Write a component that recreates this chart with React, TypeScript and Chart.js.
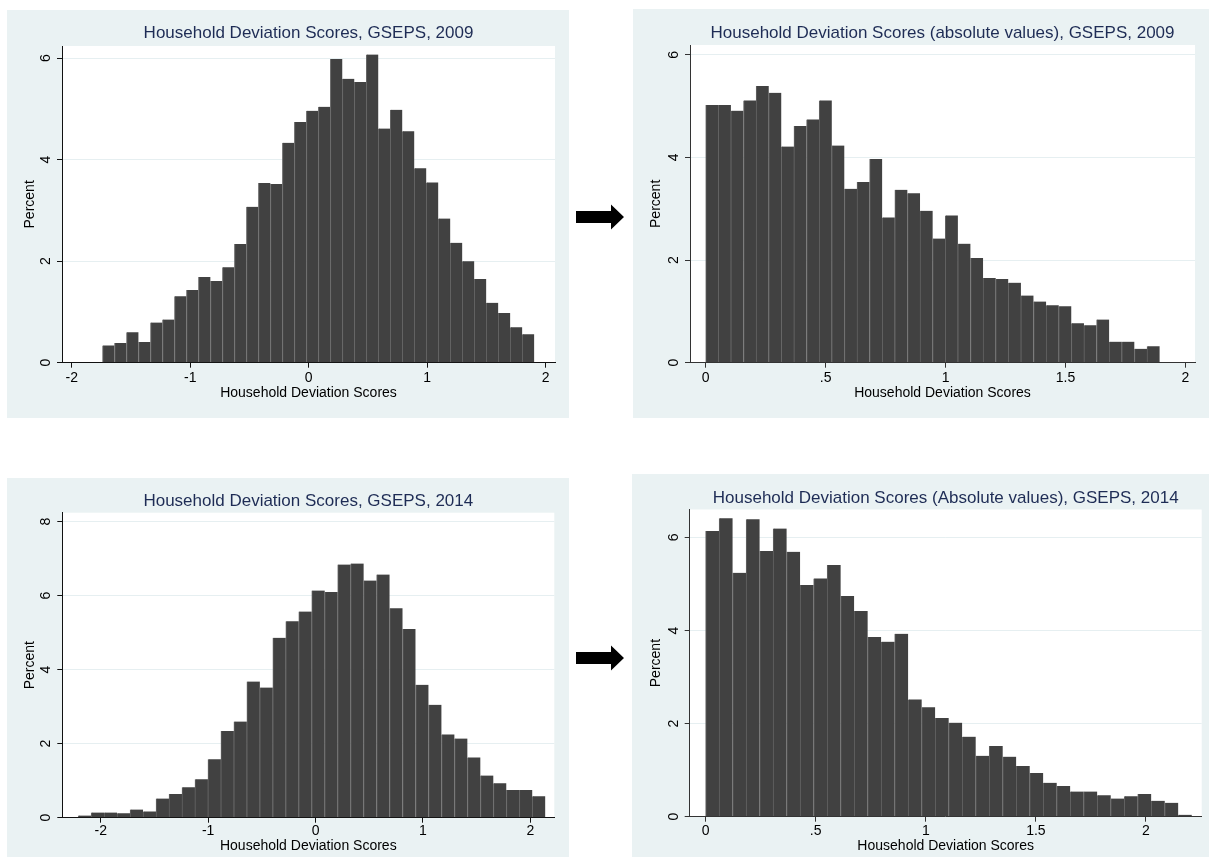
import React, { useEffect, useRef } from "react";
import { Chart, registerables } from "chart.js";

Chart.register(...registerables);

// ---------- Data ----------
const title2009 = "Household Deviation Scores, GSEPS, 2009";
const title2009Abs = "Household Deviation Scores (absolute values), GSEPS, 2009";
const title2014 = "Household Deviation Scores, GSEPS, 2014";
const title2014Abs = "Household Deviation Scores (Absolute values), GSEPS, 2014";
const xAxisTitle = "Household Deviation Scores";
const yAxisTitle = "Percent";

// histogram bins: first bin start and bin width, then percent per bin
const binStart2009 = -1.74;
const binWidth2009 = 0.1012;
const values2009 = [
  0.34, 0.39, 0.6, 0.41, 0.79, 0.85, 1.31, 1.43, 1.69, 1.61, 1.88, 2.34,
  3.07, 3.54, 3.52, 4.33, 4.74, 4.96, 5.04, 5.98, 5.59, 5.53, 6.07, 4.61,
  4.98, 4.56, 3.83, 3.55, 2.84, 2.36, 2.0, 1.65, 1.18, 0.98, 0.7, 0.56,
];

const binStart2009Abs = 0;
const binWidth2009Abs = 0.05256;
const values2009Abs = [
  5.02, 5.02, 4.91, 5.11, 5.39, 5.26, 4.21, 4.61, 4.74, 5.11, 4.23, 3.39,
  3.52, 3.97, 2.83, 3.37, 3.3, 2.96, 2.42, 2.87, 2.32, 2.04, 1.65, 1.63,
  1.56, 1.31, 1.19, 1.12, 1.1, 0.77, 0.73, 0.84, 0.41, 0.41, 0.27, 0.32,
];

const binStart2014 = -2.21;
const binWidth2014 = 0.12081;
const values2014 = [
  0.06, 0.14, 0.14, 0.12, 0.22, 0.17, 0.52, 0.64, 0.82, 1.04, 1.58, 2.34,
  2.6, 3.68, 3.52, 4.86, 5.31, 5.57, 6.14, 6.1, 6.84, 6.87, 6.41, 6.57,
  5.66, 5.1, 3.59, 3.05, 2.25, 2.14, 1.63, 1.14, 0.93, 0.75, 0.75, 0.58,
];

const binStart2014Abs = 0;
const binWidth2014Abs = 0.06133;
const values2014Abs = [
  6.14, 6.41, 5.24, 6.39, 5.71, 6.19, 5.69, 4.98, 5.12, 5.41, 4.74, 4.42,
  3.86, 3.76, 3.93, 2.52, 2.35, 2.12, 2.02, 1.72, 1.31, 1.52, 1.29, 1.09,
  0.94, 0.73, 0.66, 0.54, 0.54, 0.46, 0.39, 0.44, 0.49, 0.34, 0.3, 0.04,
];

const xTicksSigned = [-2, -1, 0, 1, 2];
const xTickLabelsSigned = ["-2", "-1", "0", "1", "2"];
const xTicksAbs = [0, 0.5, 1, 1.5, 2];
const xTickLabelsAbs = ["0", ".5", "1", "1.5", "2"];
const yTicks6 = [0, 2, 4, 6];
const yTickLabels6 = ["0", "2", "4", "6"];
const yTicks8 = [0, 2, 4, 6, 8];
const yTickLabels8 = ["0", "2", "4", "6", "8"];

// ---------- Styles ----------
const FONT = "'Liberation Sans', Arial, Helvetica, sans-serif";
const PANEL_BG = "#eaf2f3";
const GRID = "#e6eff1";
const BAR = "#414141";
const BAR_EDGE = "#646464";
const TITLE_COLOR = "#1e2c55";

type PanelSpec = {
  id: string;
  left: number;
  top: number;
  width: number;
  height: number;
  yW: number;
  xH: number;
  rightPad: number;
  titlePadTop: number;
  titlePadBottom: number;
  xTickPad: number;
  xTitlePadBottom: number;
  yTitlePadTop: number;
  title: string;
  values: number[];
  binStart: number;
  binWidth: number;
  xMin: number;
  xMax: number;
  yMax: number;
  xTicks: number[];
  xTickLabels: string[];
  yTicks: number[];
  yTickLabels: string[];
  axisColor: string;
};

const panelBgPlugin = {
  id: "panelBg",
  beforeDraw(chart: any) {
    const { ctx, chartArea, width, height } = chart;
    ctx.save();
    ctx.fillStyle = PANEL_BG;
    ctx.fillRect(0, 0, width, height);
    ctx.fillStyle = "#ffffff";
    ctx.fillRect(
      chartArea.left,
      chartArea.top,
      chartArea.right - chartArea.left,
      chartArea.bottom - chartArea.top
    );
    ctx.restore();
  },
};

function HistPanel({ spec }: { spec: PanelSpec }) {
  const ref = useRef<HTMLCanvasElement | null>(null);

  useEffect(() => {
    if (!ref.current) return;
    const points = spec.values.map((v, i) => ({
      x: spec.binStart + (i + 0.5) * spec.binWidth,
      y: v,
    }));
    const tickFont = { family: FONT, size: 14, lineHeight: 1.2 };
    const chart = new Chart(ref.current, {
      type: "bar",
      data: {
        datasets: [
          {
            data: points as any,
            backgroundColor: BAR,
            borderColor: BAR_EDGE,
            borderWidth: { left: 1, right: 0, top: 0, bottom: 0 } as any,
            borderSkipped: false as any,
            barPercentage: 1,
            categoryPercentage: 1,
            grouped: false,
          },
        ],
      },
      options: {
        responsive: false,
        maintainAspectRatio: false,
        animation: false,
        devicePixelRatio: 1,
        events: [],
        layout: {
          padding: { top: 0, left: 0, bottom: 0, right: spec.rightPad },
        },
        plugins: {
          legend: { display: false },
          tooltip: { enabled: false },
          title: {
            display: true,
            text: spec.title,
            fullSize: false,
            color: TITLE_COLOR,
            font: { family: FONT, size: 17, weight: "normal", lineHeight: 1.2 },
            padding: { top: spec.titlePadTop, bottom: spec.titlePadBottom },
          },
        },
        scales: {
          x: {
            type: "linear",
            min: spec.xMin,
            max: spec.xMax,
            offset: false,
            afterBuildTicks: (s: any) => {
              s.ticks = spec.xTicks.map((v) => ({ value: v }));
            },
            afterFit: (s: any) => {
              s.height = spec.xH;
            },
            grid: {
              display: true,
              drawOnChartArea: false,
              drawTicks: true,
              tickLength: 5,
              tickColor: spec.axisColor,
              offset: false,
            },
            border: { display: true, color: spec.axisColor, width: 1 },
            ticks: {
              autoSkip: false,
              minRotation: 0,
              maxRotation: 0,
              padding: spec.xTickPad,
              color: "#000",
              font: tickFont,
              callback: (_v: any, i: number) => spec.xTickLabels[i],
            },
            title: {
              display: true,
              text: xAxisTitle,
              color: "#000",
              font: tickFont,
              padding: { top: 0, bottom: spec.xTitlePadBottom },
            },
          },
          y: {
            type: "linear",
            min: 0,
            max: spec.yMax,
            afterBuildTicks: (s: any) => {
              s.ticks = spec.yTicks.map((v) => ({ value: v }));
            },
            afterFit: (s: any) => {
              s.width = spec.yW;
            },
            grid: {
              display: true,
              drawOnChartArea: true,
              color: GRID,
              lineWidth: 1,
              drawTicks: true,
              tickLength: 5,
              tickColor: spec.axisColor,
            },
            border: { display: true, color: spec.axisColor, width: 1 },
            ticks: {
              autoSkip: false,
              minRotation: 90,
              maxRotation: 90,
              crossAlign: "center",
              padding: 7,
              color: "#000",
              font: tickFont,
              callback: (_v: any, i: number) => spec.yTickLabels[i],
            },
            title: {
              display: true,
              text: yAxisTitle,
              color: "#000",
              font: tickFont,
              padding: { top: spec.yTitlePadTop, bottom: 0 },
            },
          },
        },
      } as any,
      plugins: [panelBgPlugin],
    });
    return () => chart.destroy();
  }, [spec]);

  return (
    <div
      style={{
        position: "absolute",
        left: spec.left,
        top: spec.top,
        width: spec.width,
        height: spec.height,
      }}
    >
      <canvas
        ref={ref}
        width={spec.width}
        height={spec.height}
        style={{ width: spec.width, height: spec.height, display: "block" }}
      />
    </div>
  );
}

const panels: PanelSpec[] = [
  {
    id: "p2009",
    left: 7,
    top: 10,
    width: 562,
    height: 408,
    yW: 55,
    xH: 55.3,
    rightPad: 14,
    titlePadTop: 12.8,
    titlePadBottom: 2.8,
    xTickPad: 1.6,
    xTitlePadBottom: 16.3,
    yTitlePadTop: 15.1,
    title: title2009,
    values: values2009,
    binStart: binStart2009,
    binWidth: binWidth2009,
    xMin: -2.082,
    xMax: 2.0785,
    yMax: 6.237,
    xTicks: xTicksSigned,
    xTickLabels: xTickLabelsSigned,
    yTicks: yTicks6,
    yTickLabels: yTickLabels6,
    axisColor: "#111",
  },
  {
    id: "p2009abs",
    left: 633,
    top: 9,
    width: 576,
    height: 409,
    yW: 57,
    xH: 55.3,
    rightPad: 14,
    titlePadTop: 14.1,
    titlePadBottom: 1.5,
    xTickPad: 2.2,
    xTitlePadBottom: 16.3,
    yTitlePadTop: 15.2,
    title: title2009Abs,
    values: values2009Abs,
    binStart: binStart2009Abs,
    binWidth: binWidth2009Abs,
    xMin: -0.0654,
    xMax: 2.0396,
    yMax: 6.19,
    xTicks: xTicksAbs,
    xTickLabels: xTickLabelsAbs,
    yTicks: yTicks6,
    yTickLabels: yTickLabels6,
    axisColor: "#333",
  },
  {
    id: "p2014",
    left: 7,
    top: 478,
    width: 562,
    height: 379,
    yW: 55.3,
    xH: 39.3,
    rightPad: 14.7,
    titlePadTop: 13.5,
    titlePadBottom: 0.8,
    xTickPad: 0.3,
    xTitlePadBottom: 2.2,
    yTitlePadTop: 14.4,
    title: title2014,
    values: values2014,
    binStart: binStart2014,
    binWidth: binWidth2014,
    xMin: -2.358,
    xMax: 2.223,
    yMax: 8.243,
    xTicks: xTicksSigned,
    xTickLabels: xTickLabelsSigned,
    yTicks: yTicks8,
    yTickLabels: yTickLabels8,
    axisColor: "#111",
  },
  {
    id: "p2014abs",
    left: 632,
    top: 474,
    width: 577,
    height: 383,
    yW: 57.7,
    xH: 40.3,
    rightPad: 7.3,
    titlePadTop: 14.1,
    titlePadBottom: 1.0,
    xTickPad: 0.6,
    xTitlePadBottom: 2.2,
    yTitlePadTop: 16.2,
    title: title2014Abs,
    values: values2014Abs,
    binStart: binStart2014Abs,
    binWidth: binWidth2014Abs,
    xMin: -0.0722,
    xMax: 2.253,
    yMax: 6.6,
    xTicks: xTicksAbs,
    xTickLabels: xTickLabelsAbs,
    yTicks: yTicks6,
    yTickLabels: yTickLabels6,
    axisColor: "#333",
  },
];

function Arrow({ cy }: { cy: number }) {
  return (
    <svg
      style={{ position: "absolute", left: 570, top: cy - 20, overflow: "visible" }}
      width={60}
      height={40}
    >
      <polygon
        points="6,14 41,14 41,7.6 54,20 41,32.6 41,26 6,26"
        fill="#000"
      />
    </svg>
  );
}

export default function App() {
  return (
    <div
      style={{
        position: "absolute",
        left: 0,
        top: 0,
        width: 1209,
        height: 863,
        background: "#ffffff",
        overflow: "hidden",
      }}
    >
      {panels.map((p) => (
        <HistPanel key={p.id} spec={p} />
      ))}
      <Arrow cy={216.7} />
      <Arrow cy={658} />
    </div>
  );
}
